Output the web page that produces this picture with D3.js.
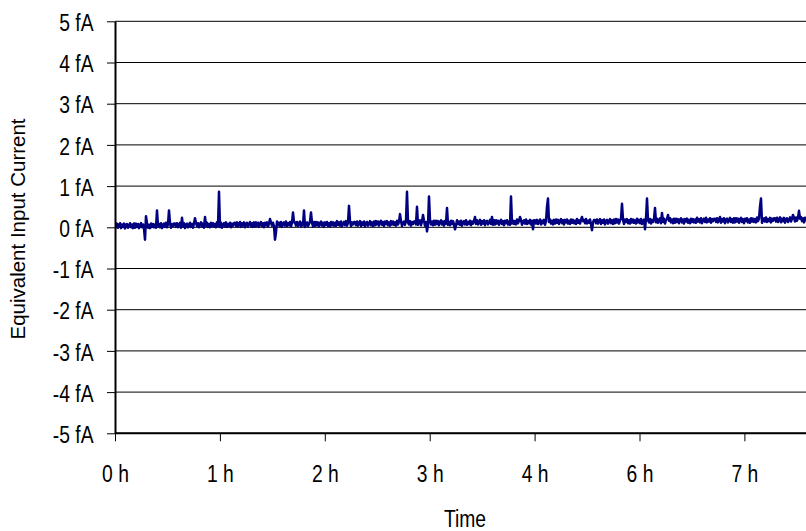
<!DOCTYPE html>
<html>
<head>
<meta charset="utf-8">
<script src="https://cdn.jsdelivr.net/npm/d3@7"></script>
<style>
  body { margin: 0; background: #fff; }
  svg { display: block; }
</style>
</head>
<body>
<svg id="chart" width="806" height="531"></svg>
<script>
// tick labels along the time axis (the original skips 5 h)
const hourLabels = ['0 h', '1 h', '2 h', '3 h', '4 h', '6 h', '7 h'];
const yTicks = [-5, -4, -3, -2, -1, 0, 1, 2, 3, 4, 5];
// readings per hour tick
const samplesPerTick = 104.9;
// equivalent input current in fA
const current = [
  0.08, 0.00, 0.09, -0.01, 0.05, 0.10, -0.02, 0.07, 0.01, 0.09, -0.03, 0.06, 0.08, -0.01, 0.04, 0.10, 0.00, 0.07, -0.02, 0.09,
  -0.01, 0.09, 0.01, 0.08, -0.02, 0.06, 0.10, 0.00, 0.07, -0.03, -0.30, 0.27, 0.09, -0.01, 0.06, -0.02, 0.09, 0.01, 0.08, 0.00,
  0.07, -0.01, 0.41, 0.02, 0.08, 0.00, 0.10, -0.02, 0.06, 0.09, 0.01, 0.11, 0.00, 0.07, 0.41, 0.10, -0.01, 0.08, 0.03, 0.09,
  0.09, 0.01, 0.10, 0.00, 0.06, 0.11, -0.01, 0.23, 0.02, 0.10, -0.02, 0.07, 0.09, 0.00, 0.05, 0.11, 0.01, 0.08, -0.01, 0.10,
  0.22, 0.11, 0.03, 0.10, 0.00, 0.08, 0.12, 0.02, 0.09, -0.01, 0.25, 0.04, 0.11, 0.01, 0.08, 0.00, 0.11, 0.03, 0.10, 0.02,
  0.08, 0.00, 0.12, 0.03, 0.86, 0.01, 0.11, -0.01, 0.07, 0.10, 0.02, 0.12, 0.01, 0.08, 0.03, 0.11, 0.00, 0.09, 0.04, 0.10,
  0.11, 0.03, 0.12, 0.02, 0.08, 0.13, 0.01, 0.10, 0.04, 0.12, 0.00, 0.09, 0.11, 0.02, 0.07, 0.13, 0.03, 0.10, 0.01, 0.12,
  0.02, 0.12, 0.04, 0.11, 0.01, 0.09, 0.13, 0.03, 0.10, 0.00, 0.11, 0.05, 0.12, 0.02, 0.09, 0.20, 0.12, 0.04, 0.11, 0.03,
  -0.30, -0.12, 0.14, 0.05, 0.11, 0.03, 0.13, 0.01, 0.09, 0.12, 0.04, 0.14, 0.03, 0.10, 0.05, 0.13, 0.02, 0.11, 0.36, 0.12,
  0.12, 0.04, 0.13, 0.03, 0.09, 0.14, 0.02, 0.11, 0.05, 0.41, 0.01, 0.10, 0.12, 0.03, 0.08, 0.14, 0.36, 0.11, 0.02, 0.13,
  0.03, 0.13, 0.05, 0.12, 0.02, 0.10, 0.14, 0.04, 0.11, 0.01, 0.12, 0.06, 0.13, 0.03, 0.10, 0.02, 0.13, 0.05, 0.12, 0.04,
  0.11, 0.03, 0.15, 0.06, 0.12, 0.04, 0.14, 0.02, 0.10, 0.13, 0.05, 0.15, 0.04, 0.11, 0.52, 0.14, 0.03, 0.12, 0.07, 0.13,
  0.13, 0.05, 0.14, 0.04, 0.10, 0.15, 0.03, 0.12, 0.06, 0.14, 0.02, 0.11, 0.13, 0.04, 0.09, 0.15, 0.05, 0.12, 0.03, 0.14,
  0.05, 0.15, 0.07, 0.14, 0.04, 0.12, 0.16, 0.06, 0.13, 0.03, 0.14, 0.08, 0.15, 0.05, 0.12, 0.04, 0.15, 0.07, 0.14, 0.06,
  0.12, 0.04, 0.16, 0.07, 0.13, 0.32, 0.15, 0.03, 0.11, 0.14, 0.06, 0.16, 0.86, 0.12, 0.07, 0.15, 0.04, 0.13, 0.08, 0.14,
  0.15, 0.07, 0.50, 0.06, 0.12, 0.17, 0.05, 0.14, 0.30, 0.16, 0.04, 0.13, -0.10, 0.06, 0.75, 0.17, 0.07, 0.14, 0.05, 0.16,
  0.06, 0.16, 0.08, 0.15, 0.05, 0.13, 0.17, 0.07, 0.14, 0.04, 0.15, 0.09, 0.47, 0.06, 0.13, 0.05, 0.16, 0.08, 0.15, 0.07,
  -0.05, 0.05, 0.17, 0.08, 0.14, 0.06, 0.16, 0.04, 0.12, 0.15, 0.07, 0.17, 0.06, 0.13, 0.08, 0.16, 0.05, 0.14, 0.09, 0.15,
  0.25, 0.08, 0.17, 0.07, 0.13, 0.18, 0.06, 0.15, 0.09, 0.17, 0.05, 0.14, 0.16, 0.07, 0.12, 0.18, 0.08, 0.25, 0.06, 0.17,
  0.07, 0.17, 0.09, 0.16, 0.06, 0.14, 0.18, 0.08, 0.15, 0.05, 0.16, 0.10, 0.17, 0.07, 0.14, 0.06, 0.75, 0.09, 0.16, 0.08,
  0.15, 0.07, 0.19, 0.10, 0.16, 0.25, 0.18, 0.06, 0.14, 0.17, 0.09, 0.19, 0.08, 0.15, 0.10, 0.18, 0.07, 0.16, -0.05, 0.17,
  0.17, 0.09, 0.18, 0.08, 0.14, 0.19, 0.07, 0.16, 0.10, 0.18, 0.06, 0.15, 0.50, 0.70, 0.13, 0.19, 0.09, 0.16, 0.07, 0.18,
  0.09, 0.19, 0.11, 0.18, 0.08, 0.16, 0.20, 0.10, 0.17, 0.07, 0.18, 0.12, 0.19, 0.09, 0.16, 0.08, 0.19, 0.11, 0.18, 0.10,
  0.16, 0.08, 0.20, 0.11, 0.17, 0.09, 0.19, 0.25, 0.15, 0.18, 0.10, 0.20, 0.09, 0.16, 0.11, 0.19, 0.08, -0.07, 0.12, 0.18,
  0.18, 0.10, 0.19, 0.09, 0.15, 0.20, 0.08, 0.17, 0.11, 0.19, 0.07, 0.16, 0.18, 0.09, 0.14, 0.20, 0.10, 0.17, 0.08, 0.19,
  0.10, 0.20, 0.12, 0.19, 0.09, 0.17, 0.21, 0.57, 0.18, 0.08, 0.19, 0.13, 0.20, 0.10, 0.17, 0.09, 0.20, 0.12, 0.19, 0.11,
  0.17, 0.09, 0.21, 0.12, 0.18, 0.10, 0.20, 0.08, 0.16, 0.19, -0.05, 0.21, 0.70, 0.17, 0.12, 0.20, 0.09, 0.18, 0.13, 0.19,
  0.47, 0.12, 0.21, 0.11, 0.17, 0.22, 0.10, 0.35, 0.13, 0.21, 0.09, 0.18, 0.20, 0.30, 0.16, 0.22, 0.12, 0.19, 0.10, 0.21,
  0.11, 0.21, 0.13, 0.20, 0.10, 0.18, 0.22, 0.12, 0.19, 0.09, 0.20, 0.14, 0.21, 0.11, 0.18, 0.10, 0.21, 0.13, 0.20, 0.12,
  0.19, 0.11, 0.23, 0.14, 0.20, 0.12, 0.22, 0.10, 0.18, 0.21, 0.13, 0.23, 0.12, 0.19, 0.14, 0.22, 0.11, 0.20, 0.15, 0.21,
  0.21, 0.13, 0.22, 0.12, 0.18, 0.25, 0.11, 0.20, 0.14, 0.22, 0.10, 0.19, 0.21, 0.12, 0.17, 0.23, 0.13, 0.20, 0.11, 0.22,
  0.12, 0.22, 0.14, 0.21, 0.11, 0.19, 0.23, 0.13, 0.20, 0.10, 0.21, 0.15, 0.22, 0.12, 0.19, 0.11, 0.22, 0.14, 0.21, 0.13,
  0.20, 0.12, 0.24, 0.15, 0.21, 0.50, 0.70, 0.11, 0.19, 0.22, 0.14, 0.24, 0.13, 0.20, 0.15, 0.23, 0.12, 0.21, 0.16, 0.22,
  0.22, 0.14, 0.23, 0.13, 0.19, 0.24, 0.12, 0.21, 0.15, 0.23, 0.11, 0.20, 0.22, 0.13, 0.18, 0.24, 0.14, 0.21, 0.30, 0.23,
  0.14, 0.24, 0.16, 0.23, 0.40, 0.21, 0.25, 0.15, 0.22, 0.12, 0.23, 0.17, 0.24, 0.14, 0.21, 0.13, 0.24, 0.16, 0.23, 0.15
];

const svg = d3.select('#chart');
const plotLeft = 115, plotRight = 814, plotTop = 21.3, plotBottom = 433.3;
const font = 'Liberation Sans, Arial, sans-serif';
const fontSize = 19.3;
const stretch = 1.2; // labels look tall and narrow in the original

// scales: x in hour ticks, y in fA
const x = d3.scaleLinear().domain([0, 7]).range([plotLeft, plotLeft + 7 * 104.9]);
const y = d3.scaleLinear().domain([-5, 5]).range([plotBottom, plotTop]);

// horizontal gridlines
svg.append('g')
  .selectAll('line')
  .data(yTicks)
  .enter()
  .append('line')
  .attr('x1', plotLeft)
  .attr('x2', plotRight)
  .attr('y1', (d) => y(d))
  .attr('y2', (d) => y(d))
  .attr('stroke', '#000')
  .attr('stroke-width', 1);

// data line, clipped to plot area
svg.append('clipPath')
  .attr('id', 'plot')
  .append('rect')
  .attr('x', plotLeft)
  .attr('y', plotTop)
  .attr('width', plotRight - plotLeft)
  .attr('height', plotBottom - plotTop);

const line = d3.line()
  .x((d, i) => x(i / samplesPerTick))
  .y((d) => y(d));

svg.append('path')
  .datum(current)
  .attr('clip-path', 'url(#plot)')
  .attr('fill', 'none')
  .attr('stroke', '#000080')
  .attr('stroke-width', 2.5)
  .attr('stroke-linejoin', 'round')
  .attr('d', line);

// y axis
const yAxis = svg.append('g')
  .attr('transform', 'translate(' + plotLeft + ',0)')
  .call(d3.axisLeft(y).tickValues(yTicks).tickSize(8).tickSizeOuter(0).tickFormat((d) => d + ' fA'));

// x axis
const xAxis = svg.append('g')
  .attr('transform', 'translate(0,' + plotBottom + ')')
  .call(d3.axisBottom(x).tickValues(d3.range(hourLabels.length)).tickSize(8).tickSizeOuter(0)
    .tickFormat((d, i) => hourLabels[i]));

xAxis.select('.domain').attr('d', 'M' + plotLeft + ',0H' + plotRight);

[yAxis, xAxis].forEach((ax) => {
  ax.select('.domain').attr('stroke', '#000').attr('stroke-width', 2);
  ax.selectAll('.tick line').attr('stroke', '#000').attr('stroke-width', 1);
});

yAxis.selectAll('text')
  .attr('x', -21.5)
  .attr('dy', '0.4em')
  .attr('transform', 'scale(1,' + stretch + ')')
  .style('font-family', font)
  .style('font-size', fontSize + 'px')
  .attr('fill', '#000');

xAxis.selectAll('text')
  .attr('y', 48.4 / stretch)
  .attr('dy', 0)
  .attr('transform', 'scale(1,' + stretch + ')')
  .style('font-family', font)
  .style('font-size', fontSize + 'px')
  .attr('fill', '#000');

// axis titles
svg.append('text')
  .attr('transform', 'translate(465,526.5) scale(1,' + stretch + ')')
  .attr('text-anchor', 'middle')
  .style('font-family', font)
  .style('font-size', fontSize + 'px')
  .text('Time');

svg.append('text')
  .attr('transform', 'translate(25,229) rotate(-90)')
  .attr('text-anchor', 'middle')
  .style('font-family', font)
  .style('font-size', '20.5px')
  .text('Equivalent Input Current');
</script>
</body>
</html>
